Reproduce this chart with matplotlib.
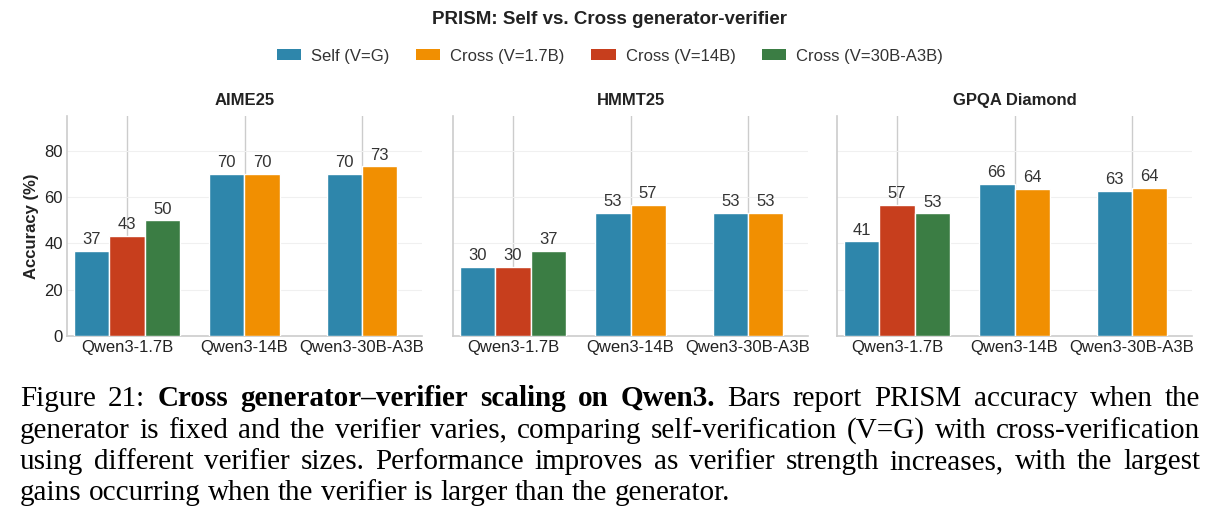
import numpy as np
import matplotlib
matplotlib.use("Agg")
import matplotlib.pyplot as plt
from matplotlib.patches import Patch

# ---------------- data ----------------
benchmarks = ["AIME25", "HMMT25", "GPQA Diamond"]
generators = ["Qwen3-1.7B", "Qwen3-14B", "Qwen3-30B-A3B"]
series_names = ["Self (V=G)", "Cross (V=1.7B)", "Cross (V=14B)", "Cross (V=30B-A3B)"]
colors = ["#2E86AB", "#F18F01", "#C73E1D", "#3B7D44"]

# values per benchmark: rows = series, cols = generators (None = not run)
aime_self = [36.7, 70.0, 70.0]
aime_v17 = [None, 70.0, 73.3]
aime_v14 = [43.3, None, None]
aime_v30 = [50.0, None, None]

hmmt_self = [30.0, 53.3, 53.3]
hmmt_v17 = [None, 56.7, 53.3]
hmmt_v14 = [30.0, None, None]
hmmt_v30 = [36.7, None, None]

gpqa_self = [40.9, 65.7, 62.6]
gpqa_v17 = [None, 63.6, 63.9]
gpqa_v14 = [56.6, None, None]
gpqa_v30 = [53.0, None, None]

data = {
    "AIME25": [aime_self, aime_v17, aime_v14, aime_v30],
    "HMMT25": [hmmt_self, hmmt_v17, hmmt_v14, hmmt_v30],
    "GPQA Diamond": [gpqa_self, gpqa_v17, gpqa_v14, gpqa_v30],
}

title = "PRISM: Self vs. Cross generator-verifier"
ylabel = "Accuracy (%)"
yticks = [0, 20, 40, 60, 80]

caption_lines = [
    [("Figure 21:", "normal"), ("Cross generator\u2013verifier scaling on Qwen3.", "bold"),
     ("Bars report PRISM accuracy when the", "normal")],
    [("generator is fixed and the verifier varies, comparing self-verification (V=G) with cross-verification", "normal")],
    [("using different verifier sizes. Performance improves as verifier strength increases, with the largest", "normal")],
    [("gains occurring when the verifier is larger than the generator.", "normal")],
]

# ---------------- plotting ----------------
plt.rcParams["font.family"] = ["Liberation Sans", "DejaVu Sans"]
W, H = 1220, 529
fig = plt.figure(figsize=(W / 100, H / 100), dpi=100)

bar_w = 0.30
grid_c = "#cccccc"
ax_left = [67, 453, 837]
ax_w = 355
ax_bottom, ax_top = 336, 116

axes = []
for i, bench in enumerate(benchmarks):
    ax = fig.add_axes([ax_left[i] / W, 1 - ax_bottom / H, ax_w / W, (ax_bottom - ax_top) / H])
    axes.append(ax)
    series = data[bench]
    x = np.arange(len(generators))
    for g in range(len(generators)):
        present = [s for s in range(len(series)) if series[s][g] is not None]
        n = len(present)
        for k, s in enumerate(present):
            v = series[s][g]
            xpos = x[g] + (k - (n - 1) / 2) * bar_w
            ax.bar(xpos, v, width=bar_w, color=colors[s], edgecolor="white",
                   linewidth=1.0, zorder=3)
            ax.text(xpos, v + 1.6, f"{v:.0f}", ha="center", va="bottom",
                    fontsize=12, color="#333333", zorder=4)
    ax.set_xlim(-0.51, 2.51)
    ax.set_ylim(0, 95)
    ax.set_xticks(x)
    ax.set_xticklabels(generators, fontsize=12, color="#222222")
    ax.set_yticks(yticks)
    if i == 0:
        ax.set_yticklabels([str(t) for t in yticks], fontsize=12, color="#222222")
        ax.set_ylabel(ylabel, fontsize=12, fontweight="bold", color="#222222", labelpad=4)
    else:
        ax.set_yticklabels([])
    ax.tick_params(axis="both", length=0, pad=3)
    ax.set_axisbelow(True)
    ax.xaxis.grid(True, color=grid_c, linewidth=1.0)
    ax.yaxis.grid(True, color="#f0f0f0", linewidth=0.8)
    for sp in ["top", "right"]:
        ax.spines[sp].set_visible(False)
    for sp in ["left", "bottom"]:
        ax.spines[sp].set_color(grid_c)
        ax.spines[sp].set_linewidth(1.2)
    ax.set_title(bench, fontsize=12, fontweight="bold", color="#222222", pad=8)

fig.text(0.5, 1 - 19 / H, title, ha="center", va="center", fontsize=13.5,
         fontweight="bold", color="#222222")
handles = [Patch(facecolor=c, edgecolor="none") for c in colors]
fig.legend(handles, series_names, loc="center", bbox_to_anchor=(0.5, 1 - 56 / H),
           ncol=4, frameon=False, fontsize=12, handlelength=1.45, handleheight=0.66,
           columnspacing=1.6, handletextpad=0.6, labelcolor="#333333")

# ---------------- caption (justified) ----------------
renderer = fig.canvas.get_renderer()
cap_fs = 21
cap_family = ["Liberation Serif", "DejaVu Serif"]
x0, x1 = 20, 1200
baselines = [406, 437.5, 469, 500.5]

def measure(word, weight):
    t = fig.text(0, 0, word, fontsize=cap_fs, fontweight=weight, family=cap_family)
    w = t.get_window_extent(renderer).width
    t.remove()
    return w

normal_space = measure("a a", "normal") - 2 * measure("a", "normal")
for li, segs in enumerate(caption_lines):
    words = []
    for txt, wt in segs:
        for wd in txt.split(" "):
            words.append((wd, wt))
    widths = [measure(w, wt) for w, wt in words]
    if li < len(caption_lines) - 1:
        space = (x1 - x0 - sum(widths)) / (len(words) - 1)
        space = max(space, 0.45 * normal_space)
    else:
        space = normal_space
    xp = x0
    for (wd, wt), w in zip(words, widths):
        fig.text(xp / W, 1 - baselines[li] / H, wd, fontsize=cap_fs, fontweight=wt,
                 family=cap_family, ha="left", va="baseline", color="black")
        xp += w + space

fig.savefig("out.png", dpi=100)
